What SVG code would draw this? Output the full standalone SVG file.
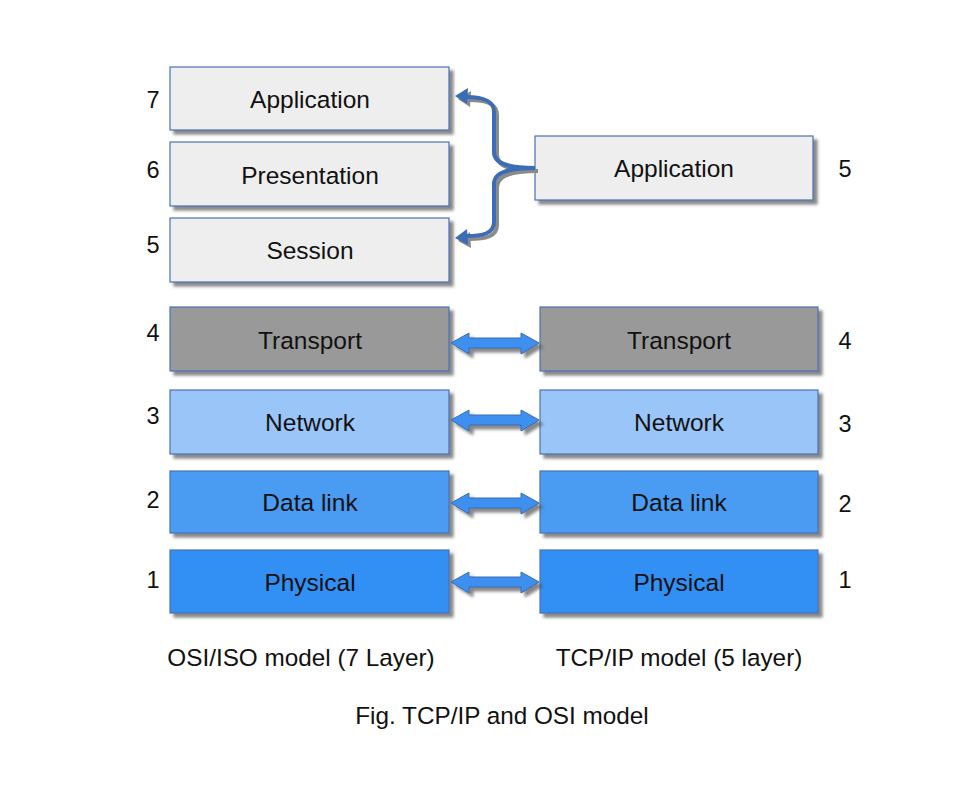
<svg xmlns="http://www.w3.org/2000/svg" width="976" height="785" viewBox="0 0 976 785">
<defs>
<filter id="sh" x="-10%" y="-10%" width="130%" height="140%">
<feDropShadow dx="4" dy="4" stdDeviation="1.5" flood-color="#555" flood-opacity="0.7"/>
</filter>
<style>
.box{stroke:#4a72b5;stroke-width:1.2;filter:url(#sh)}
.g{fill:#eeeeee}
.t{fill:#999999}
.n{fill:#99c5f8}
.d{fill:#4a9cf2}
.p{fill:#3190f5}
text{font-family:"Liberation Sans",Arial,sans-serif;fill:#111}
.lbl{font-size:24.5px;text-anchor:middle;dominant-baseline:central}
.num{font-size:23.5px;text-anchor:middle;dominant-baseline:central}
.cap{font-size:24.3px;text-anchor:middle}
.dbl{fill:#3d8ff0;stroke:#3a6db5;stroke-width:1;filter:url(#sh)}
.brace{fill:none;stroke:#3a6db5;stroke-width:4}
.braceS{fill:none;stroke:#8a8a8a;stroke-width:4}
</style>
</defs>
<g id="osi-application"><rect class="box g" x="170" y="67" width="279" height="63"/><text class="lbl" x="310" y="99">Application</text><text class="num" x="153" y="100">7</text></g>
<g id="osi-presentation"><rect class="box g" x="170" y="142" width="279" height="64"/><text class="lbl" x="310" y="175">Presentation</text><text class="num" x="153" y="170">6</text></g>
<g id="osi-session"><rect class="box g" x="170" y="218" width="279" height="64"/><text class="lbl" x="310" y="250">Session</text><text class="num" x="153" y="245">5</text></g>
<g id="osi-transport"><rect class="box t" x="170" y="307" width="279" height="64"/><text class="lbl" x="310" y="340">Transport</text><text class="num" x="153" y="333">4</text></g>
<g id="osi-network"><rect class="box n" x="170" y="390" width="279" height="64"/><text class="lbl" x="310" y="422">Network</text><text class="num" x="153" y="416">3</text></g>
<g id="osi-datalink"><rect class="box d" x="170" y="471" width="279" height="62"/><text class="lbl" x="310" y="502">Data link</text><text class="num" x="153" y="500">2</text></g>
<g id="osi-physical"><rect class="box p" x="170" y="550" width="279" height="63"/><text class="lbl" x="310" y="582">Physical</text><text class="num" x="153" y="580">1</text></g>

<g id="tcp-application"><rect class="box g" x="535" y="136" width="278" height="64"/><text class="lbl" x="674" y="168">Application</text><text class="num" x="845" y="169">5</text></g>
<g id="tcp-transport"><rect class="box t" x="540" y="307" width="278" height="64"/><text class="lbl" x="679" y="340">Transport</text><text class="num" x="845" y="341">4</text></g>
<g id="tcp-network"><rect class="box n" x="540" y="390" width="278" height="64"/><text class="lbl" x="679" y="422">Network</text><text class="num" x="845" y="424">3</text></g>
<g id="tcp-datalink"><rect class="box d" x="540" y="471" width="278" height="62"/><text class="lbl" x="679" y="502">Data link</text><text class="num" x="845" y="504">2</text></g>
<g id="tcp-physical"><rect class="box p" x="540" y="550" width="278" height="63"/><text class="lbl" x="679" y="582">Physical</text><text class="num" x="845" y="580">1</text></g>

<g id="connectors">
<g transform="translate(3,3)">
<path class="braceS" d="M535,168 C512,168 494,165 494,152 L494,112 C494,100 482,97 466,97"/>
<path class="braceS" d="M535,168 C512,168 494,171 494,184 L494,222 C494,234 482,236 466,236"/>
<polygon points="455,96 468,88 467,104" fill="#8a8a8a"/>
<polygon points="455,238 467,229 468,245" fill="#8a8a8a"/>
</g>
<path class="brace" d="M535,168 C512,168 494,165 494,152 L494,112 C494,100 482,97 466,97"/>
<path class="brace" d="M535,168 C512,168 494,171 494,184 L494,222 C494,234 482,236 466,236"/>
<polygon points="455,96 468,88 467,104" fill="#3a6db5"/>
<polygon points="455,238 467,229 468,245" fill="#3a6db5"/>

<path class="dbl" d="M451,343 L469,333 L469,338 L521,338 L521,333 L539,343 L521,354 L521,348 L469,348 L469,354 Z"/>
<path class="dbl" d="M451,420 L469,410 L469,415 L521,415 L521,410 L539,420 L521,431 L521,425 L469,425 L469,431 Z"/>
<path class="dbl" d="M451,503 L469,493 L469,498 L521,498 L521,493 L539,503 L521,514 L521,508 L469,508 L469,514 Z"/>
<path class="dbl" d="M451,582 L469,572 L469,577 L521,577 L521,572 L539,582 L521,593 L521,587 L469,587 L469,593 Z"/>
</g>

<text class="cap" x="301" y="666">OSI/ISO model (7 Layer)</text>
<text class="cap" x="679" y="666">TCP/IP model (5 layer)</text>
<text class="cap" x="502" y="724">Fig. TCP/IP and OSI model</text>
</svg>
